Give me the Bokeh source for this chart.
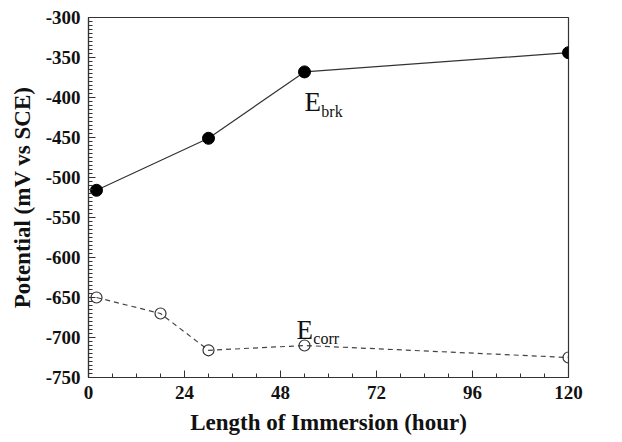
from bokeh.plotting import figure
from bokeh.models import Range1d, SingleIntervalTicker, Label, CustomJSTickFormatter
from bokeh.embed import file_html
from bokeh.resources import INLINE

# Data
ebrk_hours = [2, 30, 54, 120]
ebrk_mv = [-516, -451, -368, -344]
ecorr_hours = [2, 18, 30, 54, 120]
ecorr_mv = [-650, -670, -716, -710, -725]

FONT = "Liberation Serif"

p = figure(width=606, height=440, output_backend="svg", toolbar_location=None,
           x_range=Range1d(0, 120), y_range=Range1d(-750, -300),
           min_border_left=88, min_border_right=38, min_border_top=17, min_border_bottom=63)
p.background_fill_color = "white"
p.border_fill_color = "white"
p.outline_line_color = "#333333"
p.outline_line_width = 1.2
p.grid.visible = False

p.xaxis.ticker = SingleIntervalTicker(interval=24, num_minor_ticks=4)
p.yaxis.ticker = SingleIntervalTicker(interval=50, num_minor_ticks=10)
p.xaxis.formatter = CustomJSTickFormatter(code="return tick.toFixed(0);")
p.yaxis.formatter = CustomJSTickFormatter(code="return tick.toFixed(0);")

for ax in (p.xaxis[0], p.yaxis[0]):
    ax.axis_line_color = "#333333"
    ax.axis_line_width = 1.2
    ax.major_tick_in = 7
    ax.major_tick_out = 0
    ax.minor_tick_in = 4
    ax.minor_tick_out = 0
    ax.major_tick_line_color = "#333333"
    ax.minor_tick_line_color = "#333333"
    ax.major_label_text_font = FONT
    ax.major_label_text_font_style = "bold"
    ax.major_label_text_font_size = "19px"
    ax.major_label_text_color = "#111111"
    ax.axis_label_text_font = FONT
    ax.axis_label_text_font_style = "bold"
    ax.axis_label_text_font_size = "23px"
    ax.axis_label_text_color = "#111111"

p.xaxis.axis_label = "Length of Immersion (hour)"
p.yaxis.axis_label = "Potential (mV vs SCE)"
p.xaxis.major_label_standoff = 8
p.yaxis.major_label_standoff = 8
p.xaxis.axis_label_standoff = 8
p.yaxis.axis_label_standoff = 8

# Ebrk series
p.line(ebrk_hours, ebrk_mv, line_color="#333333", line_width=1.2)
p.scatter(ebrk_hours, ebrk_mv, size=12, marker="circle", fill_color="black", line_color="black")

# Ecorr series
p.line(ecorr_hours, ecorr_mv, line_color="#444444", line_width=1.2, line_dash="5 4")
p.scatter(ecorr_hours, ecorr_mv, size=11, marker="circle", fill_color=None,
          line_color="#333333", line_width=1.2)

# annotations
p.add_layout(Label(x=54, y=-406, text="E", text_font=FONT, text_font_size="27px",
                   text_color="#111111", text_baseline="middle", text_align="left"))
p.add_layout(Label(x=58.2, y=-417, text="brk", text_font=FONT, text_font_size="16px",
                   text_color="#111111", text_baseline="middle", text_align="left"))
p.add_layout(Label(x=52, y=-690, text="E", text_font=FONT, text_font_size="27px",
                   text_color="#111111", text_baseline="middle", text_align="left"))
p.add_layout(Label(x=56.2, y=-701, text="corr", text_font=FONT, text_font_size="16px",
                   text_color="#111111", text_baseline="middle", text_align="left"))

open("out.html", "w").write(file_html(p, INLINE))
